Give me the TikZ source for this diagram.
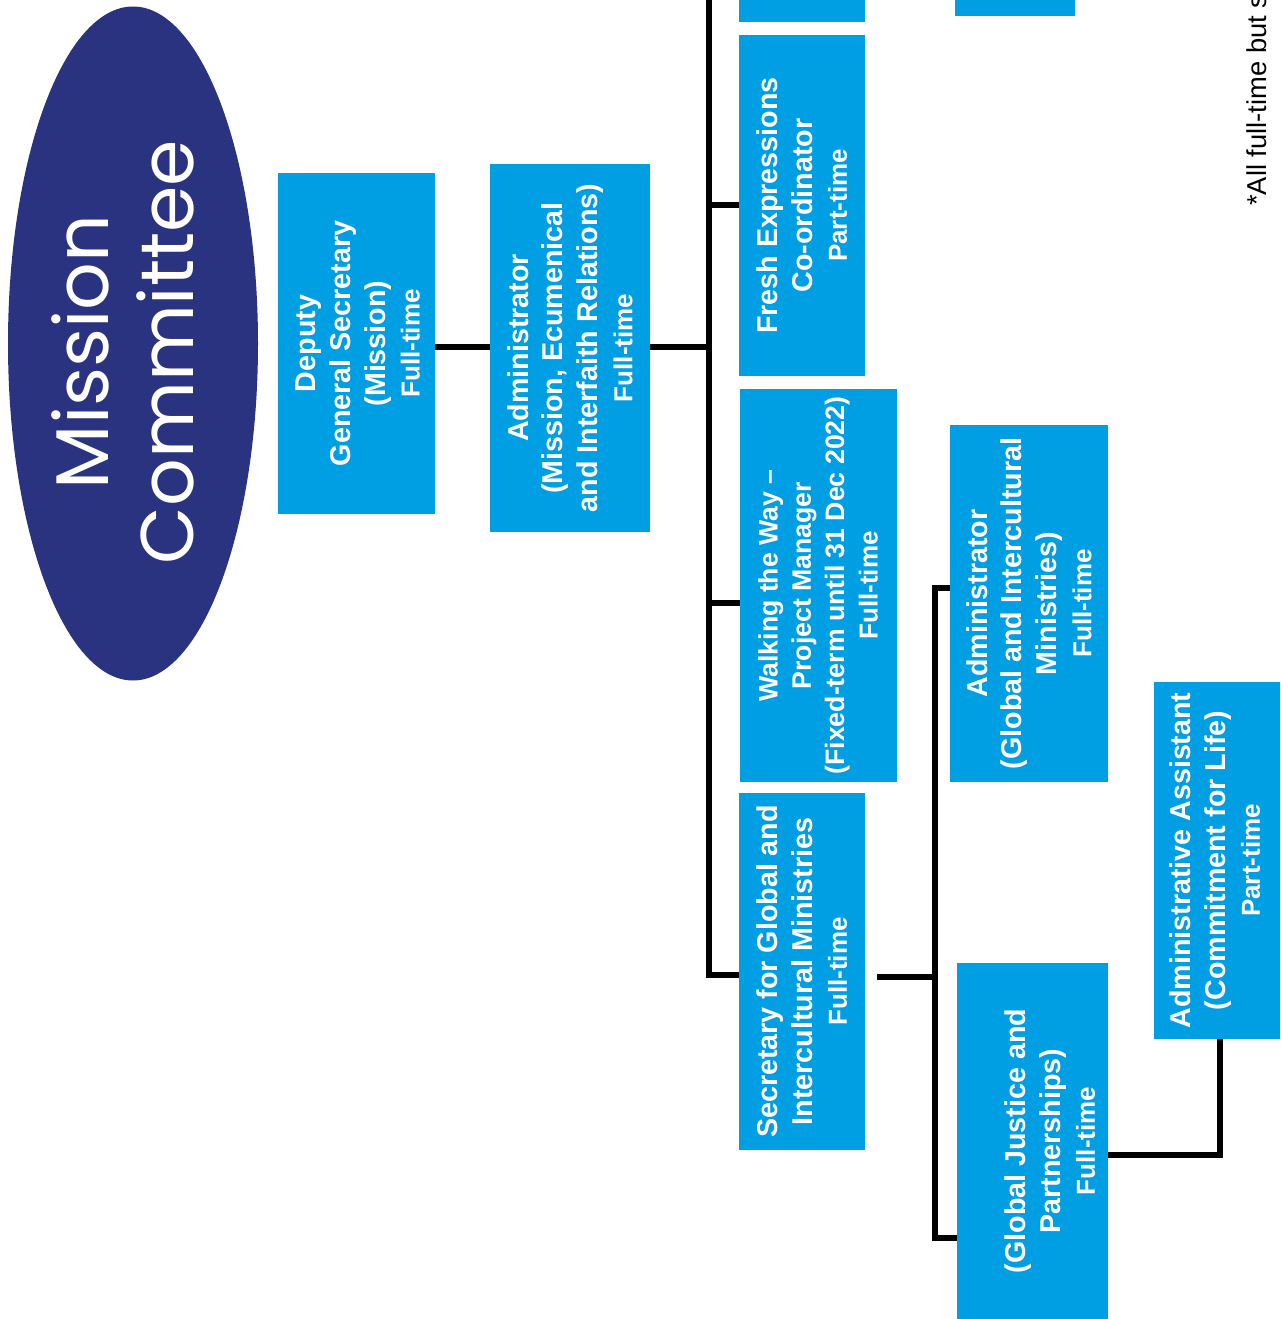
\documentclass[tikz,border=0pt]{standalone}
\usepackage{fontspec}
\setmainfont{Liberation Sans}
\newfontfamily\titlefont{Poppins}
\usetikzlibrary{fit,shapes.geometric}
\definecolor{boxblue}{RGB}{0,159,227}
\definecolor{navy}{RGB}{42,51,127}
\begin{document}
\begin{tikzpicture}[x=0.75pt,y=-0.75pt,
  box/.style={fill=boxblue, draw=none, inner sep=0pt},
  lbl/.style={rotate=90, text=white, font=\bfseries\fontsize{21.5}{26}\selectfont, align=center, inner sep=0pt},
  conn/.style={line width=4.5pt, draw=black}
]
\newcommand\ft[1]{\fontsize{19.5}{26}\selectfont #1}
\useasboundingbox (0,0) rectangle (1280,1319);
\clip (0,0) rectangle (1280,1319);

% title ellipse
\node[ellipse, fill=navy, minimum width=187.5pt, minimum height=505.5pt, inner sep=0pt] (mc) at (133,343.5) {};
\node[rotate=90, text=white, font=\titlefont\fontsize{56}{64}\selectfont, align=center, inner sep=0pt] (mct) at (123,352) {Mission\\Committee};

% boxes
\node[box, fit={(278,173) (435,514)}] (dep) {};
\node[box, fit={(490,164) (650,532)}] (adm) {};
\node[box, fit={(739,-30) (865,22)}] (topa) {};
\node[box, fit={(955,-30) (1075,16)}] (topb) {};
\node[box, fit={(739,35) (865,376)}] (fresh) {};
\node[box, fit={(740,389) (897,782)}] (walk) {};
\node[box, fit={(739,793) (865,1150)}] (sec) {};
\node[box, fit={(950,425) (1108,782)}] (agim) {};
\node[box, fit={(957,963) (1108,1330)}] (gjp) {};
\node[box, fit={(1154,682) (1290,1039)}] (asst) {};

% labels
\node[lbl] (dep-t) at (358,343.5) {Deputy\\General Secretary\\(Mission)\\\ft{Full-time}};
\node[lbl] (adm-t) at (570,348) {Administrator\\(Mission, Ecumenical\\and Interfaith Relations)\\\ft{Full-time}};
\node[lbl] (fresh-t) at (802,205.5) {Fresh Expressions\\Co-ordinator\\\ft{Part-time}};
\node[lbl, font=\bfseries\fontsize{20}{25}\selectfont] (walk-t) at (818,585.5) {Walking the Way –\\Project Manager\\(Fixed-term until 31 Dec 2022)\\\ft{Full-time}};
\node[lbl] (sec-t) at (802,971.5) {Secretary for Global and\\Intercultural Ministries\\\ft{Full-time}};
\node[lbl] (agim-t) at (1029,603.5) {Administrator\\(Global and Intercultural\\Ministries)\\\ft{Full-time}};
\node[lbl] (gjp-t) at (1050,1141) {(Global Justice and\\Partnerships)\\\ft{Full-time}};
\node[lbl] (asst-t) at (1215,860.5) {Administrative Assistant\\(Commitment for Life)\\\ft{Part-time}};

% footnote
\node[rotate=90, anchor=west, inner sep=0pt, font=\fontsize{20.5}{22}\selectfont] (note) at (1257,206) {*All full-time but s};

% connectors
\coordinate (ttop) at (709,-10);
\coordinate (tbot) at (709,975);
\coordinate (wb) at (709,603);
\coordinate (secout) at (877,977);
\coordinate (sa) at (935,588);
\coordinate (sm) at (935,977);
\coordinate (sb) at (935,1238);
\coordinate (ga) at (1220,1155);

\draw[conn] (adm.west |- 0,347) -- (dep.east |- 0,347);
\draw[conn] (adm.east |- 0,347) -- (ttop |- 0,347);
\draw[conn] (ttop) -- (tbot) -- (sec.west |- tbot);
\draw[conn] (fresh.west) -- (fresh.west -| ttop);
\draw[conn] (wb) -- (walk.west |- wb);
\draw[conn] (secout) -- (sm);
\draw[conn] (agim.west |- sa) -- (sa) -- (sb) -- (gjp.west |- sb);
\draw[conn] (gjp.east |- ga) -- (ga) -- (ga |- asst.south);
\end{tikzpicture}
\end{document}
